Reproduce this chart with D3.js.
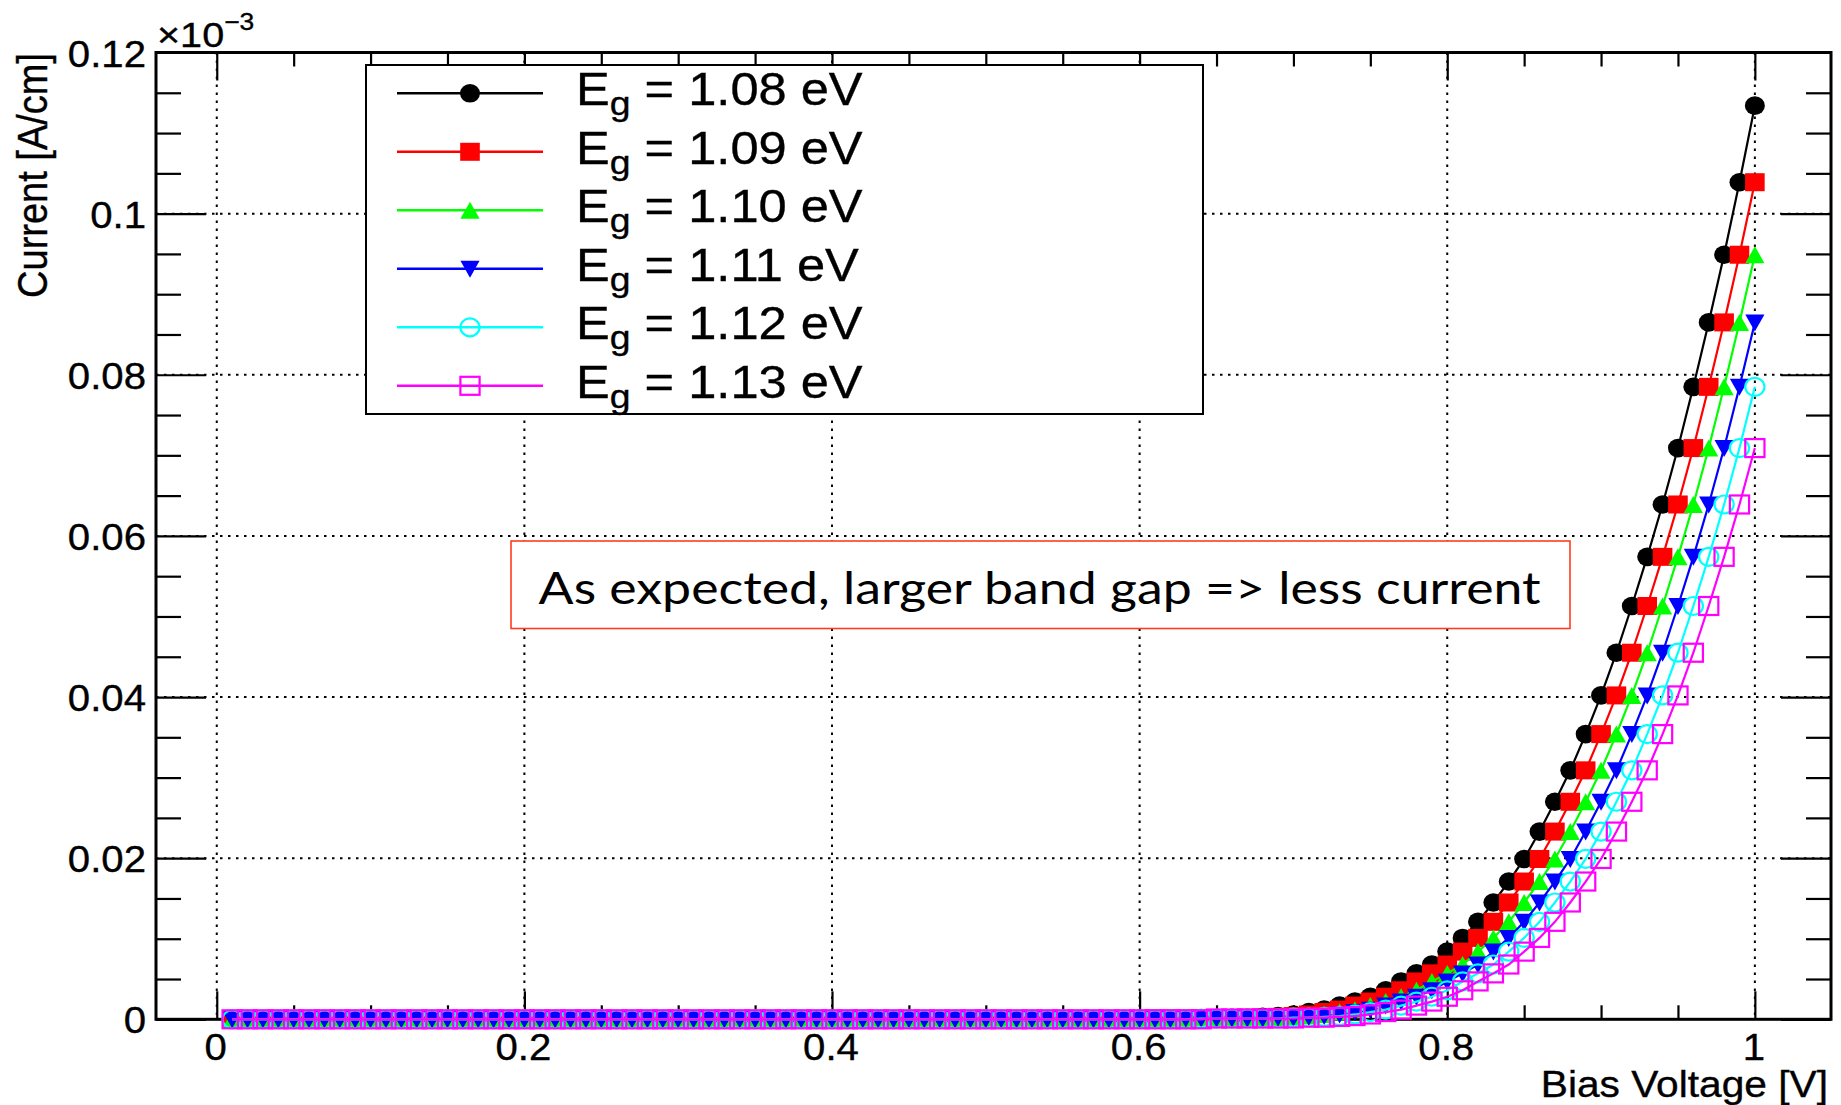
<!DOCTYPE html>
<html><head><meta charset="utf-8">
<script src="https://cdn.jsdelivr.net/npm/d3@7"></script>
<style>html,body{margin:0;padding:0;background:#fff;} svg{display:block;}</style>
</head><body>
<svg id="chart" width="1841" height="1105"></svg>
<script>
// ---------------- DATA ----------------
const voltage = [
0.01,0.02,0.03,0.04,0.05,0.06,0.07,0.08,0.09,0.10,
0.11,0.12,0.13,0.14,0.15,0.16,0.17,0.18,0.19,0.20,
0.21,0.22,0.23,0.24,0.25,0.26,0.27,0.28,0.29,0.30,
0.31,0.32,0.33,0.34,0.35,0.36,0.37,0.38,0.39,0.40,
0.41,0.42,0.43,0.44,0.45,0.46,0.47,0.48,0.49,0.50,
0.51,0.52,0.53,0.54,0.55,0.56,0.57,0.58,0.59,0.60,
0.61,0.62,0.63,0.64,0.65,0.66,0.67,0.68,0.69,0.70,
0.71,0.72,0.73,0.74,0.75,0.76,0.77,0.78,0.79,0.80,
0.81,0.82,0.83,0.84,0.85,0.86,0.87,0.88,0.89,0.90,
0.91,0.92,0.93,0.94,0.95,0.96,0.97,0.98,0.99,1.00];

// current in units of 1e-3 A/cm
const current108 = [
0,0,0,0,0,0,0,0,0,0, 0,0,0,0,0,0,0,0,0,0, 0,0,0,0,0,0,0,0,0,0,
0,0,0,0,0,0,0,0,0,0, 0,0,0,0,0,0,0,0,0,0, 0,0,0,0,0,0,0,0,0,
0.0001,0.0001,0.0001,0.0001,0.0001,0.0001,0.0002,0.0002,0.0003,0.0004,
0.0006,0.0009,0.0012,0.0017,0.0022,0.0028,0.0036,0.0047,0.0057,0.0068,
0.0084,0.0101,0.0121,0.0145,0.0171,0.0199,0.0233,0.0270,0.0309,0.0354,
0.0402,0.0455,0.0513,0.0574,0.0639,0.0709,0.0785,0.0865,0.0949,0.1039,0.1134];

const current109 = [
0,0,0,0,0,0,0,0,0,0, 0,0,0,0,0,0,0,0,0,0, 0,0,0,0,0,0,0,0,0,0,
0,0,0,0,0,0,0,0,0,0, 0,0,0,0,0,0,0,0,0,0, 0,0,0,0,0,0,0,0,0,0,
0.0001,0.0001,0.0001,0.0001,0.0001,0.0001,0.0002,0.0002,0.0003,0.0004,
0.0006,0.0009,0.0012,0.0017,0.0022,0.0028,0.0036,0.0047,0.0057,0.0068,
0.0084,0.0101,0.0121,0.0145,0.0171,0.0199,0.0233,0.0270,0.0309,0.0354,
0.0402,0.0455,0.0513,0.0574,0.0639,0.0709,0.0785,0.0865,0.0949,0.1039];

const current110 = [
0,0,0,0,0,0,0,0,0,0, 0,0,0,0,0,0,0,0,0,0, 0,0,0,0,0,0,0,0,0,0,
0,0,0,0,0,0,0,0,0,0, 0,0,0,0,0,0,0,0,0,0, 0,0,0,0,0,0,0,0,0,0, 0,
0.0001,0.0001,0.0001,0.0001,0.0001,0.0001,0.0002,0.0002,0.0003,0.0004,
0.0006,0.0009,0.0012,0.0017,0.0022,0.0028,0.0036,0.0047,0.0057,0.0068,
0.0084,0.0101,0.0121,0.0145,0.0171,0.0199,0.0233,0.0270,0.0309,0.0354,
0.0402,0.0455,0.0513,0.0574,0.0639,0.0709,0.0785,0.0865,0.0949];

const current111 = [
0,0,0,0,0,0,0,0,0,0, 0,0,0,0,0,0,0,0,0,0, 0,0,0,0,0,0,0,0,0,0,
0,0,0,0,0,0,0,0,0,0, 0,0,0,0,0,0,0,0,0,0, 0,0,0,0,0,0,0,0,0,0, 0,0,
0.0001,0.0001,0.0001,0.0001,0.0001,0.0001,0.0002,0.0002,0.0003,0.0004,
0.0006,0.0009,0.0012,0.0017,0.0022,0.0028,0.0036,0.0047,0.0057,0.0068,
0.0084,0.0101,0.0121,0.0145,0.0171,0.0199,0.0233,0.0270,0.0309,0.0354,
0.0402,0.0455,0.0513,0.0574,0.0639,0.0709,0.0785,0.0865];

const current112 = [
0,0,0,0,0,0,0,0,0,0, 0,0,0,0,0,0,0,0,0,0, 0,0,0,0,0,0,0,0,0,0,
0,0,0,0,0,0,0,0,0,0, 0,0,0,0,0,0,0,0,0,0, 0,0,0,0,0,0,0,0,0,0, 0,0,0,
0.0001,0.0001,0.0001,0.0001,0.0001,0.0001,0.0002,0.0002,0.0003,0.0004,
0.0006,0.0009,0.0012,0.0017,0.0022,0.0028,0.0036,0.0047,0.0057,0.0068,
0.0084,0.0101,0.0121,0.0145,0.0171,0.0199,0.0233,0.0270,0.0309,0.0354,
0.0402,0.0455,0.0513,0.0574,0.0639,0.0709,0.0785];

const current113 = [
0,0,0,0,0,0,0,0,0,0, 0,0,0,0,0,0,0,0,0,0, 0,0,0,0,0,0,0,0,0,0,
0,0,0,0,0,0,0,0,0,0, 0,0,0,0,0,0,0,0,0,0, 0,0,0,0,0,0,0,0,0,0, 0,0,0,0,
0.0001,0.0001,0.0001,0.0001,0.0001,0.0001,0.0002,0.0002,0.0003,0.0004,
0.0006,0.0009,0.0012,0.0017,0.0022,0.0028,0.0036,0.0047,0.0057,0.0068,
0.0084,0.0101,0.0121,0.0145,0.0171,0.0199,0.0233,0.0270,0.0309,0.0354,
0.0402,0.0455,0.0513,0.0574,0.0639,0.0709];

const seriesValues  = [current108, current109, current110, current111, current112, current113];
const seriesLabels  = ["1.08", "1.09", "1.10", "1.11", "1.12", "1.13"];
const seriesColors  = ["#000000", "#ff0000", "#00ff00", "#0000ff", "#00ffff", "#ff00ff"];
const seriesMarkers = ["circleFilled", "squareFilled", "triangleUp", "triangleDown", "circleOpen", "squareOpen"];

const xMajorTicks = [0, 0.2, 0.4, 0.6, 0.8, 1];
const xTickLabels = ["0", "0.2", "0.4", "0.6", "0.8", "1"];
const xMinorTicks = [0.05,0.1,0.15,0.25,0.3,0.35,0.45,0.5,0.55,0.65,0.7,0.75,0.85,0.9,0.95];
const yMajorTicks = [0, 0.02, 0.04, 0.06, 0.08, 0.1, 0.12];
const yTickLabels = ["0", "0.02", "0.04", "0.06", "0.08", "0.1", "0.12"];
const yMinorTicks = [0.005,0.01,0.015,0.025,0.03,0.035,0.045,0.05,0.055,0.065,0.07,0.075,0.085,0.09,0.095,0.105,0.11,0.115];
const xDomain = [-0.0395, 1.0495];
const yDomain = [0, 0.12];

const xTitle = "Bias Voltage [V]";
const yTitle = "Current [A/cm]";
const annotationText = "As expected, larger band gap => less current";

// ---------------- DRAWING ----------------
const FONT = "'Liberation Sans', Arial, Helvetica, sans-serif";
const svg = d3.select("#chart");
svg.append("rect").attr("width", 1841).attr("height", 1105).attr("fill", "#fff");

const plotL = 156, plotR = 1831, plotT = 52.5, plotB = 1019.3;
const x = d3.scaleLinear().domain(xDomain).range([plotL, plotR]);
const y = d3.scaleLinear().domain(yDomain).range([plotB, plotT]);

function addText(parent, px, py, str, size, anchor, sx) {
  const g = parent.append("g").attr("transform", `translate(${px},${py}) scale(${sx || 1.1},1)`);
  return g.append("text").attr("x", 0).attr("y", 0)
    .attr("font-family", FONT).attr("font-size", size)
    .attr("text-anchor", anchor || "start").attr("fill", "#000")
    .attr("stroke", "#000").attr("stroke-width", 0.35).text(str);
}

// grid
const grid = svg.append("g").attr("stroke", "#000").attr("stroke-width", 2)
  .attr("stroke-dasharray", "2.5,5.5");
grid.selectAll("line.gx").data(xMajorTicks).join("line").attr("class", "gx")
  .attr("x1", d => x(d)).attr("x2", d => x(d))
  .attr("y1", y(yDomain[1])).attr("y2", y(yDomain[0]));
grid.selectAll("line.gy").data(yMajorTicks.slice(1, -1)).join("line").attr("class", "gy")
  .attr("y1", d => y(d)).attr("y2", d => y(d))
  .attr("x1", plotL).attr("x2", plotR);

// frame
svg.append("rect").attr("x", plotL).attr("y", plotT)
  .attr("width", plotR - plotL).attr("height", plotB - plotT)
  .attr("fill", "none").attr("stroke", "#000").attr("stroke-width", 3);

// ticks on all four sides (pointing inward)
function tickAxis(axis, transform) {
  const g = svg.append("g").attr("transform", transform).call(axis);
  g.select(".domain").remove();
  g.selectAll("text").remove();
  g.selectAll("line").attr("stroke", "#000").attr("stroke-width", 2.2);
}
tickAxis(d3.axisBottom(x).tickValues(xMajorTicks).tickSize(-28).tickSizeOuter(0).tickFormat(""), `translate(0,${plotB})`);
tickAxis(d3.axisBottom(x).tickValues(xMinorTicks).tickSize(-14).tickSizeOuter(0).tickFormat(""), `translate(0,${plotB})`);
tickAxis(d3.axisTop(x).tickValues(xMajorTicks).tickSize(-28).tickSizeOuter(0).tickFormat(""), `translate(0,${plotT})`);
tickAxis(d3.axisTop(x).tickValues(xMinorTicks).tickSize(-14).tickSizeOuter(0).tickFormat(""), `translate(0,${plotT})`);
tickAxis(d3.axisLeft(y).tickValues(yMajorTicks).tickSize(-50).tickSizeOuter(0).tickFormat(""), `translate(${plotL},0)`);
tickAxis(d3.axisLeft(y).tickValues(yMinorTicks).tickSize(-25).tickSizeOuter(0).tickFormat(""), `translate(${plotL},0)`);
tickAxis(d3.axisRight(y).tickValues(yMajorTicks).tickSize(-50).tickSizeOuter(0).tickFormat(""), `translate(${plotR},0)`);
tickAxis(d3.axisRight(y).tickValues(yMinorTicks).tickSize(-25).tickSizeOuter(0).tickFormat(""), `translate(${plotR},0)`);

// tick labels
const labels = svg.append("g");
xMajorTicks.forEach((v, i) => addText(labels, x(v) - 1, 1060, xTickLabels[i], 36.5, "middle"));
yMajorTicks.forEach((v, i) => addText(labels, 146, y(v) + 14, yTickLabels[i], 36.5, "end"));

// exponent
const expo = addText(labels, 157, 47, "\u00d710", 36, "start");
expo.append("tspan").attr("font-size", 24).attr("dy", -17).text("\u22123");

// axis titles
addText(svg, 1828, 1097, xTitle, 37, "end");
svg.append("g").attr("transform", "translate(47,53) rotate(-90) scale(1,1.1)")
  .append("text").attr("font-family", FONT).attr("font-size", 38)
  .attr("text-anchor", "end").attr("fill", "#000")
  .attr("stroke", "#000").attr("stroke-width", 0.35).text(yTitle);

// markers
function drawMarker(sel, type, color) {
  switch (type) {
    case "circleFilled":
      sel.append("ellipse").attr("rx", 10).attr("ry", 9.3).attr("fill", color); break;
    case "squareFilled":
      sel.append("rect").attr("x", -9.8).attr("y", -9).attr("width", 19.6).attr("height", 18).attr("fill", color); break;
    case "triangleUp":
      sel.append("path").attr("d", "M-9.6,8.5L9.6,8.5L0,-8.5Z").attr("fill", color); break;
    case "triangleDown":
      sel.append("path").attr("d", "M-9.6,-8L9.6,-8L0,9Z").attr("fill", color); break;
    case "circleOpen":
      sel.append("ellipse").attr("rx", 9.6).attr("ry", 9).attr("fill", "none")
        .attr("stroke", color).attr("stroke-width", 2.2); break;
    case "squareOpen":
      sel.append("rect").attr("x", -9.6).attr("y", -9).attr("width", 19.2).attr("height", 18)
        .attr("fill", "none").attr("stroke", color).attr("stroke-width", 2.2); break;
  }
}

// curves
const lineGen = d3.line().x((d, i) => x(voltage[i])).y(d => y(d));
seriesValues.forEach((vals, k) => {
  const g = svg.append("g");
  g.append("path").datum(vals).attr("d", lineGen).attr("fill", "none")
    .attr("stroke", seriesColors[k]).attr("stroke-width", 2.2);
  g.selectAll("g.m").data(vals).join("g").attr("class", "m")
    .attr("transform", (d, i) => `translate(${x(voltage[i])},${y(d)})`)
    .each(function () { drawMarker(d3.select(this), seriesMarkers[k], seriesColors[k]); });
});

// legend
const leg = svg.append("g");
leg.append("rect").attr("x", 366).attr("y", 65).attr("width", 837).attr("height", 349)
  .attr("fill", "#fff").attr("stroke", "#000").attr("stroke-width", 2);
seriesLabels.forEach((lab, k) => {
  const ry = 93.3 + k * 58.5;
  leg.append("line").attr("x1", 397).attr("x2", 543).attr("y1", ry).attr("y2", ry)
    .attr("stroke", seriesColors[k]).attr("stroke-width", 2.5);
  drawMarker(leg.append("g").attr("transform", `translate(470,${ry})`), seriesMarkers[k], seriesColors[k]);
  const t = addText(leg, 576, ry + 12, "E", 46, "start");
  t.append("tspan").attr("font-size", 34).attr("dy", 10).text("g");
  t.append("tspan").attr("font-size", 46).attr("dy", -10).text(` = ${lab} eV`);
});

// annotation box
const ann = svg.append("g");
ann.append("rect").attr("x", 511).attr("y", 541).attr("width", 1059).attr("height", 87.5)
  .attr("fill", "#fff").attr("stroke", "#ff3c1e").attr("stroke-width", 1.6);
ann.append("text").attr("x", 538.6).attr("y", 604)
  .attr("font-family", "Lato, 'Open Sans', sans-serif").attr("font-size", 44)
  .attr("textLength", 1002).attr("lengthAdjust", "spacingAndGlyphs")
  .attr("fill", "#000").text(annotationText);
</script>
</body></html>
